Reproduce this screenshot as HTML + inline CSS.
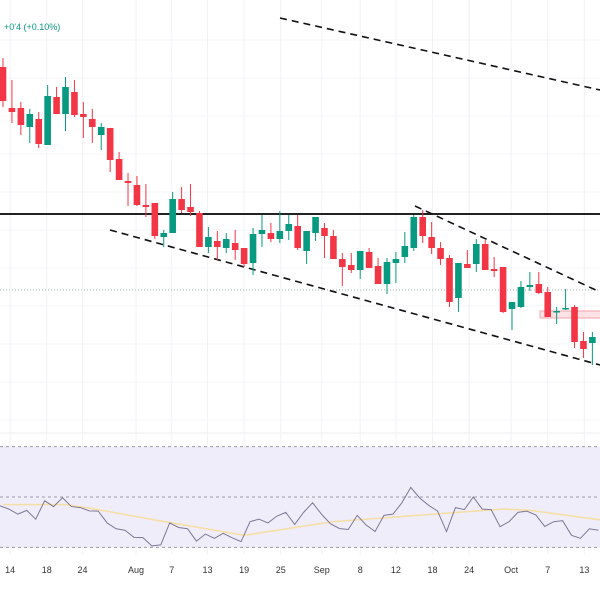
<!DOCTYPE html>
<html><head><meta charset="utf-8">
<style>
html,body{margin:0;padding:0;background:#fff;width:600px;height:600px;overflow:hidden}
svg{display:block;font-family:"Liberation Sans",sans-serif}
</style></head>
<body>
<svg id="chart" width="600" height="600" viewBox="0 0 600 600" xmlns="http://www.w3.org/2000/svg">
<rect width="600" height="600" fill="#fff"/>
<g id="grid"></g>
<g id="drawings"></g>
<g id="candles"></g>
<g id="rsi"></g>
<g id="xaxis"></g>
<text x="4" y="30" font-size="9" fill="#089981">+0'4 (+0.10%)</text>
</svg>
<script>
const opens=[533,492,492,473,481,455,503,486,508,486,481,465,472,441,419,415,395,397,363,367,401,393,387,353,359,352,357,352,337,366,367,361,369,374,349,367,372,364,341,335,330,348,334,316,337,343,352,383,363,352,342,302,336,336,356,331,333,291,293,313,316,308,288,291,293,259,257];
const highs=[542,520,498,491,488,515,513,523,520,498,491,477,472,448,427,424,416,397,370,408,413,416,389,373,369,367,370,352,372,385,377,389,385,385,369,383,377,370,347,347,349,352,342,342,348,368,385,390,378,358,345,337,350,361,360,343,333,298,319,328,328,313,293,311,295,268,268];
const lows=[493,477,465,457,452,455,486,469,483,462,457,450,428,420,394,394,383,361,353,367,387,384,353,347,340,347,340,333,325,353,358,357,360,350,336,359,342,341,314,327,321,332,316,306,317,337,349,357,346,335,293,288,332,328,330,323,287,270,292,309,306,283,276,290,252,242,235];
const closes=[499,488,475,486,456,504,486,513,485,483,473,473,440,420,417,395,393,364,367,401,390,388,353,363,353,361,350,336,366,370,361,369,376,352,369,383,364,341,333,330,349,332,316,338,341,354,383,364,352,341,298,337,332,356,330,329,288,298,313,315,307,283,289,292,258,251,263];
const rsiVals=[46.5,45.2,43.2,44.7,41.2,48.5,46.2,49.7,46.2,45.8,44.5,44.4,39.7,37.4,36.8,34.0,33.9,30.6,31.0,39.7,37.9,37.4,32.5,35.3,33.6,35.6,33.8,32.3,40.2,41.2,39.7,42.4,43.9,39.1,43.9,47.7,43.2,39.4,37.5,37.1,42.7,38.9,36.3,42.7,43.2,47.7,53.8,49.6,46.7,44.4,36.3,45.8,45.0,50.0,45.2,45.0,38.2,40.2,43.9,44.4,42.9,38.3,40.2,40.6,34.8,33.6,37.4,36.8];
const maIdx=[0,7,10,17,27,34,37,47,56,59,67];
const maVals=[47.0,47.0,45.4,40.9,34.8,38.6,40.2,42.9,45.2,44.7,40.9];
const dateLabels=["14","18","24","Aug","7","13","19","25","Sep","8","12","18","24","Oct","7","13"];
const dateIdx=[0.8,4.9,8.9,14.9,18.9,22.9,27,31.1,35.7,40,44,48.1,52.2,56.9,61,65.1];
const levelPrice=386, dottedPrice=310;

const NS="http://www.w3.org/2000/svg";
function xScale(i){return 3+i*8.93;}
function yScale(p){return 600-p;}
function rsiY(v){return 497-(v-50)*2.52;}
function mk(tag,attrs,parent){const e=document.createElementNS(NS,tag);for(const k in attrs)e.setAttribute(k,attrs[k]);parent.appendChild(e);return e;}
const grid=document.getElementById('grid'),dr=document.getElementById('drawings'),cg=document.getElementById('candles'),rg=document.getElementById('rsi'),xg=document.getElementById('xaxis');

// grid
for(let k=0;k<dateIdx.length;k++){
  const gl=mk('line',{x1:xScale(dateIdx[k]),x2:xScale(dateIdx[k]),y1:0,y2:555,stroke:'#f1f2f6','stroke-width':1},grid);
  
  
}
for(let y=40;y<430;y+=38){
  const gl=mk('line',{x1:0,x2:600,y1:y,y2:y,stroke:'#f3f4f8','stroke-width':1},grid);
  
  
}

// drawings
let e=mk('line',{x1:0,x2:600,y1:yScale(dottedPrice),y2:yScale(dottedPrice),stroke:'#9fb5ad','stroke-width':1,'stroke-dasharray':'1 2'},dr);


e=mk('rect',{x:540,y:311,width:62,height:7,fill:'#fde3e5',stroke:'#f2a3aa','stroke-width':1},dr);


e=mk('line',{x1:0,x2:600,y1:yScale(levelPrice),y2:yScale(levelPrice),stroke:'#222','stroke-width':2},dr);


e=mk('line',{x1:280,y1:18,x2:600,y2:90,stroke:'#111','stroke-width':1.6,'stroke-dasharray':'7 5'},dr);


e=mk('line',{x1:110,y1:230,x2:600,y2:365,stroke:'#111','stroke-width':1.6,'stroke-dasharray':'7 5'},dr);


e=mk('line',{x1:415,y1:206,x2:600,y2:292,stroke:'#111','stroke-width':1.6,'stroke-dasharray':'7 5'},dr);



// candles
for(let i=0;i<opens.length;i++){
  const up=closes[i]>=opens[i];const col=up?'#089981':'#f23645';const x=xScale(i);
  const w=mk('line',{x1:x,x2:x,y1:yScale(highs[i]),y2:yScale(lows[i]),stroke:col,'stroke-width':1},cg);
  
  
  const top=yScale(Math.max(opens[i],closes[i]));const h=Math.max(1.5,Math.abs(opens[i]-closes[i]));
  const b=mk('rect',{x:x-3.3,y:top,width:6.6,height:h,fill:col},cg);
  
  
}

// RSI pane
e=mk('line',{x1:0,x2:600,y1:433,y2:433,stroke:'#eceef3','stroke-width':1},rg);


e=mk('rect',{x:0,y:rsiY(70),width:600,height:rsiY(30)-rsiY(70),fill:'#f0edfa'},rg);


[70,50,30].forEach(v=>{
  const l=mk('line',{x1:0,x2:600,y1:rsiY(v),y2:rsiY(v),stroke:'#9a9aa6','stroke-width':1,'stroke-dasharray':'3 3'},rg);
  
  
});
e=mk('polyline',{points:maIdx.map((k,j)=>xScale(k)+','+rsiY(maVals[j])).join(' '),fill:'none',stroke:'#f5dfa8','stroke-width':1.6},rg);


e=mk('polyline',{points:rsiVals.map((v,i)=>(xScale(i)-3)+','+rsiY(v)).join(' '),fill:'none',stroke:'#7d7896','stroke-width':1},rg);



// x-axis labels
for(let k=0;k<dateLabels.length;k++){
  const t=mk('text',{x:xScale(dateIdx[k]),y:573,'font-size':9,fill:'#333','text-anchor':'middle'},xg);
  t.textContent=dateLabels[k];
  
  
}
</script>
</body></html>
